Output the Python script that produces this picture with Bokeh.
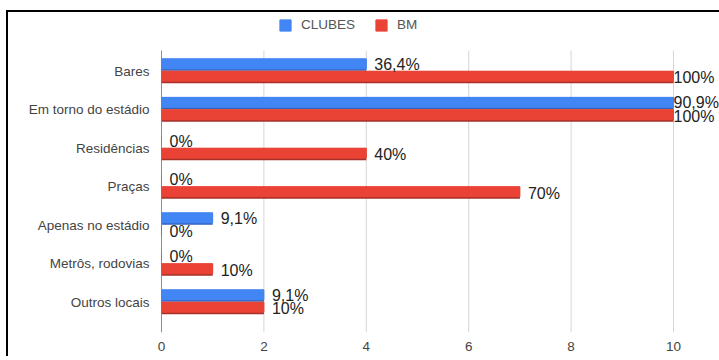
from bokeh.plotting import figure
from bokeh.models import ColumnDataSource, Range1d, Legend, LegendItem, FixedTicker
from bokeh.transform import dodge
from bokeh.core.properties import value
from bokeh.embed import file_html
from bokeh.resources import INLINE

categories = ["Bares", "Em torno do estádio", "Residências", "Praças",
              "Apenas no estádio", "Metrôs, rodovias", "Outros locais"]
clubes = [4, 10, 0, 0, 1, 0, 2]
bm = [10, 10, 4, 7, 0, 1, 2]
clubes_labels = ["36,4%", "90,9%", "0%", "0%", "9,1%", "0%", "9,1%"]
bm_labels = ["100%", "100%", "40%", "70%", "0%", "10%", "10%"]
x_ticks = [0, 2, 4, 6, 8, 10]

FONT = "Liberation Sans"
BLUE, BLUE_DARK = "#4285F4", "#2F62B8"
RED, RED_DARK = "#EA4335", "#A8302A"

# ---- layout (pixels) ----
W, H = 719, 356
LEFT, RIGHT, TOP, BOTTOM = 161, 0, 0, 24
AXIS_PX = 512            # pixels from 0 to the last x tick
ROW_PX = 38.5            # pixels per category row
FIRST_ROW_PX = 70.5      # centre of first row from top of frame
GRID_TOP_PX = 50         # where grid lines start
FRAME_W = W - LEFT - RIGHT
FRAME_H = H - TOP - BOTTOM
n = len(categories)
x_end = x_ticks[-1] * FRAME_W / AXIS_PX
y_end = (n - 1) + FIRST_ROW_PX / ROW_PX
y_start = y_end - FRAME_H / ROW_PX
grid_top = y_end - GRID_TOP_PX / ROW_PX


def label_gap(vals):
    # labels at the axis maximum are pulled in close to the bar end
    return [0 if v >= x_ticks[-1] else 8 for v in vals]


pos = list(range(n - 1, -1, -1))   # first category at the top
src = ColumnDataSource(dict(pos=pos, clubes=clubes, bm=bm,
                            clubes_labels=clubes_labels, bm_labels=bm_labels,
                            clubes_gap=label_gap(clubes), bm_gap=label_gap(bm)))
grid_src = ColumnDataSource(dict(t=x_ticks))

p = figure(width=W, height=H,
           x_range=Range1d(0, x_end), y_range=Range1d(y_start, y_end),
           output_backend="svg", toolbar_location=None,
           min_border_left=LEFT, min_border_right=RIGHT,
           min_border_top=TOP, min_border_bottom=BOTTOM)
p.outline_line_color = None
p.background_fill_alpha = 0
p.border_fill_alpha = 0
p.xgrid.grid_line_color = None
p.ygrid.grid_line_color = None
p.styles = {"background": "linear-gradient(#000,#000) 6px 10px / 2px 400px no-repeat, "
                          "linear-gradient(#000,#000) 6px 10px / 800px 2px no-repeat, #fff"}

# grid lines and zero baseline
p.segment(x0="t", x1="t", y0=y_start, y1=grid_top, source=grid_src,
          line_color="#d6d6d6", line_width=1)
p.segment(x0=x_ticks[0], x1=x_ticks[0], y0=y_start, y1=grid_top,
          line_color="#333333", line_width=1)

# shadows
p.hbar(y=dodge("pos", 0.16), left=0, right="clubes", height=0.31,
       source=src, fill_color=BLUE_DARK, line_color=None)
p.hbar(y=dodge("pos", -0.16), left=0, right="bm", height=0.31,
       source=src, fill_color=RED_DARK, line_color=None)
# main bars
rb = p.hbar(y=dodge("pos", 0.185), left=0, right="clubes", height=0.26,
            source=src, fill_color=BLUE, line_color=BLUE, line_width=1)
rr = p.hbar(y=dodge("pos", -0.135), left=0, right="bm", height=0.26,
            source=src, fill_color=RED, line_color=RED, line_width=1)

p.text(x="clubes", y=dodge("pos", 0.17), text="clubes_labels", source=src,
       x_offset="clubes_gap", text_baseline="middle", text_align="left",
       text_font_size="16px", text_color="#222222", text_font=value(FONT))
p.text(x="bm", y=dodge("pos", -0.17), text="bm_labels", source=src,
       x_offset="bm_gap", text_baseline="middle", text_align="left",
       text_font_size="16px", text_color="#222222", text_font=value(FONT))

# axes
p.xaxis.ticker = FixedTicker(ticks=x_ticks)
p.xaxis.axis_line_color = None
p.xaxis.major_tick_line_color = None
p.xaxis.minor_tick_line_color = None
p.xaxis.major_tick_out = 0
p.xaxis.major_label_standoff = 9
p.xaxis.major_label_text_font = FONT
p.xaxis.major_label_text_font_size = "13.5px"
p.xaxis.major_label_text_color = "#444444"

p.yaxis.ticker = FixedTicker(ticks=pos)
p.yaxis.major_label_overrides = {pp: c for pp, c in zip(pos, categories)}
p.yaxis.axis_line_color = None
p.yaxis.major_tick_line_color = None
p.yaxis.minor_tick_line_color = None
p.yaxis.major_tick_out = 0
p.yaxis.major_label_standoff = 12
p.yaxis.major_label_text_font = FONT
p.yaxis.major_label_text_font_size = "13.5px"
p.yaxis.major_label_text_color = "#444444"

legend = Legend(items=[LegendItem(label="CLUBES", renderers=[rb]),
                       LegendItem(label="BM", renderers=[rr])],
                orientation="horizontal", location=(117, 300),
                glyph_width=14, glyph_height=14, label_height=14,
                label_standoff=9, spacing=19, padding=0, margin=0,
                border_line_color=None, background_fill_alpha=0,
                label_text_font=FONT, label_text_font_size="13.5px",
                label_text_color="#555555", label_text_baseline="middle")
p.add_layout(legend, "center")

open("out.html", "w").write(file_html(p, INLINE))
